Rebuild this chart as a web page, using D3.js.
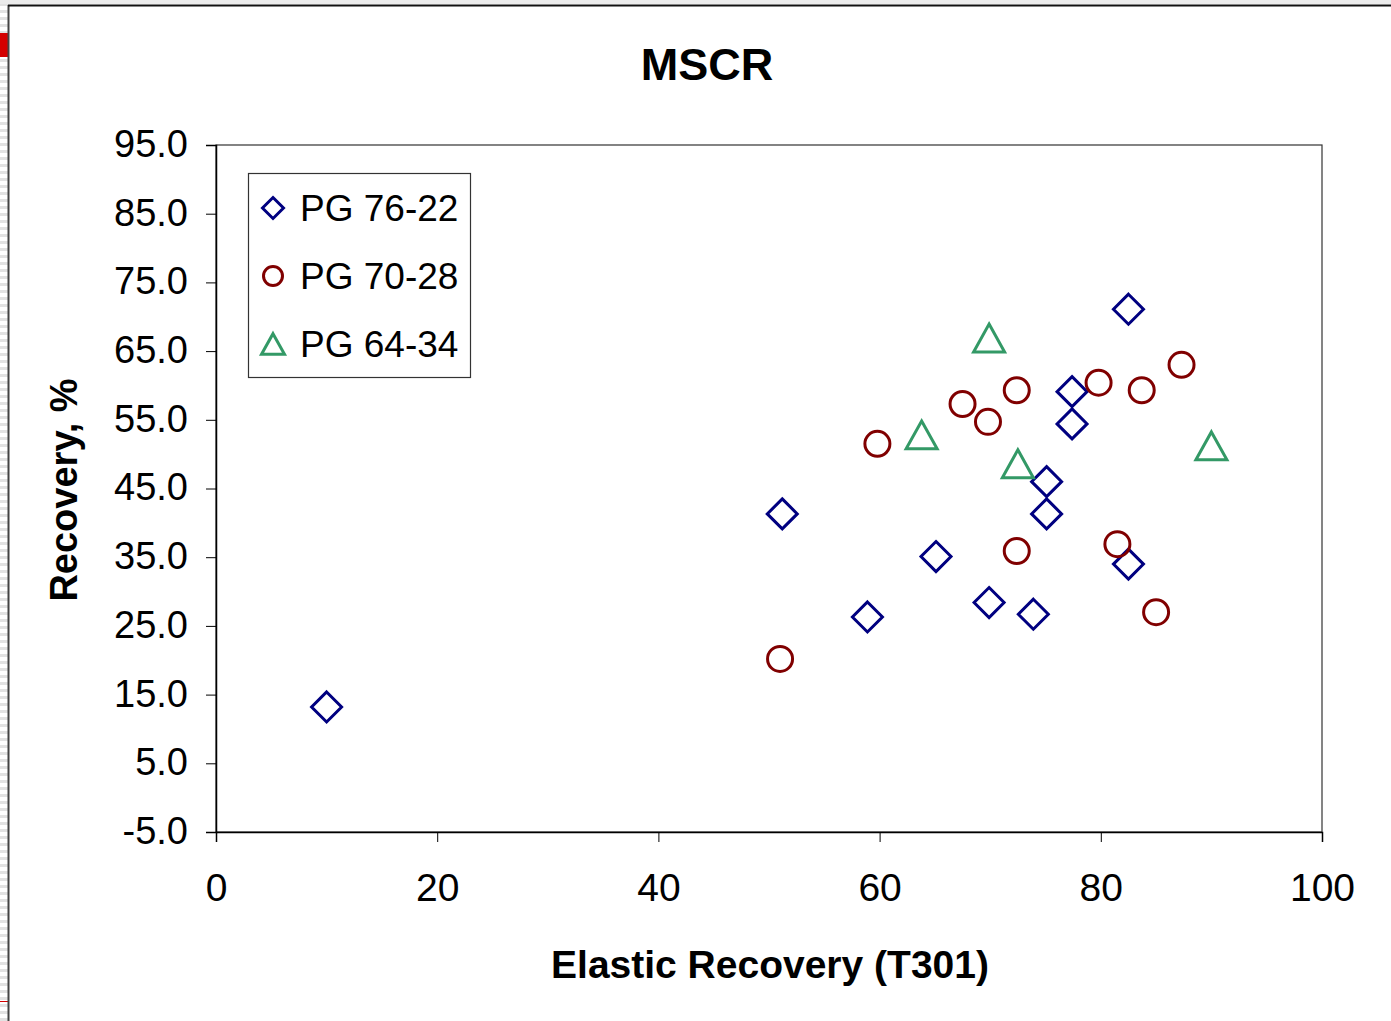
<!DOCTYPE html>
<html>
<head>
<meta charset="utf-8">
<script src="https://cdn.jsdelivr.net/npm/d3@7"></script>
<style>
  html, body { margin: 0; padding: 0; background: #fff; overflow: hidden; }
  svg { display: block; font-family: "Liberation Sans", Arial, sans-serif; }
</style>
</head>
<body>
<svg id="chart" width="1391" height="1021"></svg>
<script>
// ---------- data ----------
const chartTitle = "MSCR";
const xTitle = "Elastic Recovery (T301)";
const yTitle = "Recovery, %";
const xTicks = [0, 20, 40, 60, 80, 100];
const yTicks = [-5, 5, 15, 25, 35, 45, 55, 65, 75, 85, 95];
const seriesNames = ["PG 76-22", "PG 70-28", "PG 64-34"];
const seriesColors = ["#000080", "#800000", "#339966"];
const seriesShapes = ["diamond", "circle", "triangle"];

const pg7622 = [
  [10.0, 13.2], [51.2, 41.3], [58.9, 26.3], [65.1, 35.1], [69.9, 28.4],
  [73.9, 26.7], [75.1, 46.0], [75.1, 41.3], [77.4, 59.1], [77.4, 54.4],
  [82.5, 71.1], [82.5, 34.0]
];
const pg7028 = [
  [51.0, 20.2], [59.8, 51.5], [67.5, 57.3], [69.8, 54.7], [72.4, 59.3],
  [72.4, 35.9], [79.8, 60.4], [83.7, 59.3], [87.3, 63.0], [81.5, 36.9],
  [85.0, 27.0]
];
const pg6434 = [
  [69.9, 66.9], [63.8, 52.8], [72.5, 48.6], [90.0, 51.2]
];
const seriesData = [pg7622, pg7028, pg6434];

// ---------- layout ----------
const svg = d3.select("#chart");
const plot = { left: 216, right: 1322, top: 145, bottom: 832 };
const x = d3.scaleLinear().domain([0, 100]).range([plot.left, plot.right]);
const y = d3.scaleLinear().domain([-5, 95]).range([plot.bottom, plot.top]);

// ---------- page surroundings ----------
const defs = svg.append("defs");
const pat = defs.append("pattern").attr("id", "stripes").attr("patternUnits", "userSpaceOnUse")
  .attr("width", 8).attr("height", 7);
pat.append("rect").attr("width", 8).attr("height", 7).attr("fill", "#ffffff");
pat.append("rect").attr("y", 3).attr("width", 8).attr("height", 3).attr("fill", "#e2e2e2");
svg.append("rect").attr("x", 0).attr("y", 0).attr("width", 8).attr("height", 1021).attr("fill", "url(#stripes)");
svg.append("rect").attr("x", 0).attr("y", 0).attr("width", 1391).attr("height", 4).attr("fill", "#ececec");
svg.append("rect").attr("x", 0).attr("y", 33).attr("width", 8).attr("height", 24).attr("fill", "#d40000");
svg.append("rect").attr("x", 0).attr("y", 1001).attr("width", 8).attr("height", 1).attr("fill", "#d40000");
svg.append("line").attr("x1", 8.5).attr("x2", 8.5).attr("y1", 5).attr("y2", 1021)
  .attr("stroke", "#444").attr("stroke-width", 2);
svg.append("line").attr("x1", 8).attr("x2", 1391).attr("y1", 5.5).attr("y2", 5.5)
  .attr("stroke", "#111").attr("stroke-width", 2);

// ---------- plot frame ----------
svg.append("rect").attr("x", plot.left).attr("y", plot.top)
  .attr("width", plot.right - plot.left).attr("height", plot.bottom - plot.top)
  .attr("fill", "none").attr("stroke", "#333").attr("stroke-width", 1.2);

// ---------- axes ----------
const yAxis = d3.axisLeft(y).tickValues(yTicks).tickSize(10).tickPadding(18)
  .tickFormat(d => d.toFixed(1));
const gy = svg.append("g").attr("transform", `translate(${plot.left},0)`).call(yAxis);
gy.select(".domain").attr("stroke", "#000").attr("stroke-width", 1.5);
gy.selectAll(".tick line").attr("stroke", "#000").attr("stroke-width", 1);
gy.selectAll(".tick text").attr("font-size", 38).attr("fill", "#000")
  .attr("font-family", "'Liberation Sans', Arial, sans-serif").attr("dy", "0.3em");

const xAxis = d3.axisBottom(x).tickValues(xTicks).tickSize(10).tickPadding(30)
  .tickFormat(d3.format("d"));
const gx = svg.append("g").attr("transform", `translate(0,${plot.bottom})`).call(xAxis);
gx.select(".domain").attr("stroke", "#000").attr("stroke-width", 1.5);
gx.selectAll(".tick line").attr("stroke", "#000").attr("stroke-width", 1);
gx.selectAll(".tick text").attr("font-size", 39).attr("fill", "#000")
  .attr("font-family", "'Liberation Sans', Arial, sans-serif").attr("dy", "0.36em")
  .attr("y", 55);

// ---------- titles ----------
svg.append("text").attr("x", 707).attr("y", 80).attr("text-anchor", "middle")
  .attr("font-size", 45).attr("font-weight", "bold").text(chartTitle);
svg.append("text").attr("x", 770).attr("y", 978).attr("text-anchor", "middle")
  .attr("font-size", 39).attr("font-weight", "bold").text(xTitle);
svg.append("text").attr("transform", "translate(77,490) rotate(-90)").attr("text-anchor", "middle")
  .attr("font-size", 38).attr("font-weight", "bold").text(yTitle);

// ---------- markers ----------
function shapePath(shape, s) {
  if (shape === "diamond") return `M0,${-s}L${s},0L0,${s}L${-s},0Z`;
  if (shape === "circle") return `M${s},0A${s},${s} 0 1,1 ${-s},0A${s},${s} 0 1,1 ${s},0Z`;
  const h = s * 0.9;
  return `M0,${-h}L${s},${h}L${-s},${h}Z`;
}
const markerSize = { diamond: 15, circle: 12.5, triangle: 15.5 };
const legendSize = { diamond: 10.5, circle: 9.5, triangle: 11.5 };

seriesData.forEach((data, i) => {
  const shape = seriesShapes[i];
  svg.append("g").selectAll("path").data(data).join("path")
    .attr("transform", d => `translate(${x(d[0])},${y(d[1])})`)
    .attr("d", shapePath(shape, markerSize[shape]))
    .attr("fill", "none").attr("stroke", seriesColors[i]).attr("stroke-width", 3);
});

// ---------- legend ----------
const lg = svg.append("g");
lg.append("rect").attr("x", 248.5).attr("y", 173.5).attr("width", 222).attr("height", 204)
  .attr("fill", "#fff").attr("stroke", "#333").attr("stroke-width", 1.2);
seriesNames.forEach((name, i) => {
  const cy = 208 + i * 68;
  const shape = seriesShapes[i];
  lg.append("path").attr("transform", `translate(273,${cy})`)
    .attr("d", shapePath(shape, legendSize[shape]))
    .attr("fill", "none").attr("stroke", seriesColors[i]).attr("stroke-width", 3);
  lg.append("text").attr("x", 300).attr("y", cy).attr("dy", "0.34em")
    .attr("font-size", 37).attr("fill", "#000").text(name);
});
</script>
</body>
</html>
